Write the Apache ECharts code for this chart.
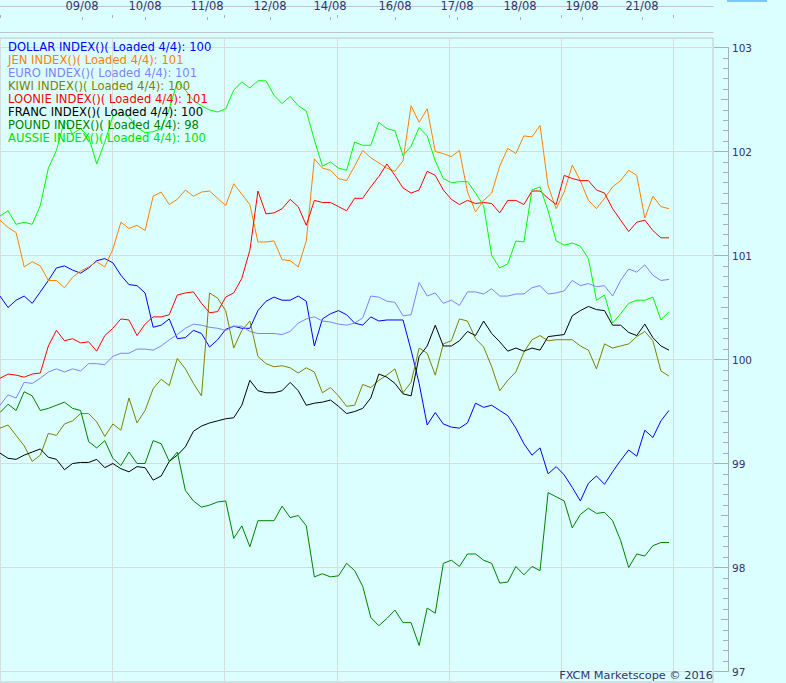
<!DOCTYPE html>
<html><head><meta charset="utf-8">
<script src="https://cdn.jsdelivr.net/npm/echarts@6/dist/echarts.min.js"></script>
<style>html,body{margin:0;padding:0;background:#dbffff}#c{width:786px;height:683px}</style>
</head><body><div id="c"></div>
<script>
// ---- data ----
const dateLabels = ['09/08','10/08','11/08','12/08','14/08','16/08','17/08','18/08','19/08','21/08'];
const datePx = [82,145,207,270,330,395,457,520,582,642];

const dollar = [100.61,100.50,100.57,100.61,100.54,100.65,100.76,100.88,100.90,100.86,
100.83,100.88,100.95,100.97,100.93,100.81,100.72,100.71,100.64,100.31,
100.33,100.39,100.20,100.21,100.28,100.25,100.12,100.19,100.29,100.32,
100.30,100.30,100.47,100.56,100.60,100.57,100.57,100.61,100.56,100.13,
100.39,100.44,100.47,100.43,100.35,100.33,100.41,100.37,100.38,100.38,
100.38,100.09,99.77,99.37,99.49,99.38,99.35,99.34,99.39,99.58,
99.54,99.56,99.51,99.46,99.34,99.19,99.08,99.15,98.90,98.97,
98.89,98.77,98.64,98.81,98.88,98.80,98.92,99.03,99.13,99.07,
99.32,99.25,99.41,99.51];
const jen = [101.34,101.27,101.22,100.89,100.94,100.90,100.76,100.76,100.69,100.79,
100.85,100.89,100.94,100.89,101.06,101.32,101.26,101.29,101.24,101.57,
101.61,101.49,101.54,101.63,101.57,101.61,101.62,101.55,101.48,101.69,
101.59,101.49,101.13,101.13,101.14,100.96,100.95,100.89,101.14,101.93,
101.84,101.82,101.74,101.72,101.86,102.01,101.94,101.89,101.84,101.81,
101.91,102.44,102.28,102.41,102.00,101.98,101.95,102.01,101.61,101.42,
101.53,101.60,101.86,102.03,101.98,102.15,102.14,102.25,101.67,101.45,
101.61,101.87,101.72,101.53,101.45,101.55,101.66,101.72,101.82,101.77,
101.36,101.57,101.47,101.45];
const euro = [99.56,99.66,99.63,99.78,99.77,99.82,99.88,99.91,99.88,99.91,
99.89,99.96,99.96,99.95,100.03,100.06,100.06,100.10,100.10,100.09,
100.13,100.19,100.24,100.30,100.34,100.33,100.31,100.30,100.28,100.32,
100.32,100.27,100.25,100.25,100.25,100.24,100.27,100.35,100.39,100.41,
100.37,100.36,100.34,100.33,100.35,100.40,100.61,100.60,100.56,100.55,
100.42,100.43,100.74,100.61,100.64,100.54,100.57,100.52,100.65,100.65,
100.63,100.68,100.61,100.61,100.63,100.63,100.69,100.71,100.63,100.64,
100.66,100.76,100.71,100.73,100.70,100.71,100.61,100.76,100.87,100.84,
100.91,100.81,100.76,100.77];
const kiwi = [99.34,99.37,99.27,99.17,99.02,99.08,99.29,99.27,99.38,99.41,
99.48,99.48,99.40,99.26,99.38,99.32,99.63,99.39,99.51,99.72,
99.81,99.75,100.01,99.91,99.77,99.65,100.64,100.59,100.47,100.11,
100.28,100.37,100.03,99.96,99.93,99.94,99.92,99.87,99.92,99.88,
99.68,99.73,99.65,99.55,99.56,99.76,99.73,99.80,99.85,99.91,
99.68,99.78,100.11,100.06,99.85,100.15,100.18,100.39,100.37,100.20,
100.12,99.93,99.70,99.80,99.88,100.07,100.19,100.23,100.18,100.19,
100.19,100.19,100.13,100.09,99.91,100.15,100.11,100.13,100.15,100.22,
100.27,100.18,99.89,99.84];
const loonie = [99.82,99.86,99.85,99.83,99.86,99.87,100.13,100.28,100.18,100.20,
100.16,100.17,100.08,100.23,100.30,100.39,100.38,100.23,100.34,100.41,
100.41,100.43,100.62,100.64,100.65,100.54,100.45,100.46,100.60,100.64,
100.78,101.05,101.62,101.40,101.41,101.45,101.54,101.47,101.29,101.53,
101.51,101.51,101.47,101.43,101.55,101.55,101.66,101.76,101.88,101.77,
101.65,101.60,101.63,101.81,101.77,101.63,101.54,101.49,101.53,101.50,
101.51,101.50,101.41,101.53,101.53,101.49,101.62,101.62,101.55,101.49,
101.77,101.74,101.72,101.72,101.63,101.60,101.45,101.34,101.23,101.32,
101.34,101.24,101.17,101.17];
const franc = [99.10,99.05,99.04,99.08,99.11,99.14,99.06,99.04,98.94,99.00,
99.01,99.01,99.04,98.96,99.00,98.95,98.92,98.97,98.96,98.84,
98.88,99.02,99.08,99.16,99.31,99.36,99.39,99.41,99.43,99.44,
99.56,99.80,99.70,99.68,99.68,99.70,99.78,99.70,99.56,99.58,
99.59,99.61,99.55,99.48,99.50,99.53,99.63,99.86,99.83,99.77,
99.67,99.65,100.03,100.13,100.33,100.13,100.13,100.18,100.27,100.23,
100.37,100.25,100.17,100.08,100.11,100.08,100.11,100.09,100.22,100.23,
100.24,100.42,100.47,100.51,100.48,100.47,100.33,100.33,100.26,100.23,
100.34,100.21,100.13,100.09];
const pound = [99.49,99.57,99.51,99.69,99.65,99.51,99.53,99.56,99.59,99.53,
99.51,99.21,99.15,99.22,99.05,98.98,99.11,99.00,99.00,99.22,
99.19,99.02,99.11,98.74,98.64,98.58,98.60,98.63,98.64,98.28,
98.40,98.20,98.45,98.45,98.45,98.59,98.48,98.50,98.40,97.91,
97.94,97.91,97.92,98.04,97.97,97.82,97.52,97.44,97.51,97.59,
97.47,97.47,97.25,97.61,97.56,98.04,98.07,98.01,98.13,98.13,
98.07,98.04,97.85,97.86,98.01,97.93,98.01,97.97,98.72,98.68,
98.64,98.38,98.51,98.57,98.52,98.53,98.45,98.26,98.00,98.13,
98.11,98.21,98.24,98.24];
const aussie = [101.38,101.43,101.30,101.32,101.30,101.48,101.84,102.01,102.30,102.17,
102.22,102.14,101.88,102.09,102.34,102.38,102.33,102.23,102.18,102.19,
102.22,102.41,102.67,102.59,102.49,102.44,102.40,102.38,102.41,102.59,
102.67,102.61,102.68,102.68,102.54,102.46,102.53,102.44,102.39,102.11,
101.86,101.90,101.84,101.82,102.09,102.06,102.06,102.28,102.22,102.20,
101.96,102.05,102.23,102.15,101.91,101.74,101.70,101.71,101.71,101.60,
101.48,101.00,100.88,100.92,101.14,101.13,101.63,101.66,101.43,101.14,
101.10,101.12,101.09,100.97,100.57,100.62,100.35,100.44,100.54,100.57,
100.57,100.60,100.38,100.46];

const seriesNames = ['DOLLAR','JEN','EURO','KIWI','LOONIE','FRANC','POUND','AUSSIE'];
const legendTexts = ['DOLLAR INDEX()( Loaded 4/4): 100','JEN INDEX()( Loaded 4/4): 101',
 'EURO INDEX()( Loaded 4/4): 101','KIWI INDEX()( Loaded 4/4): 100','LOONIE INDEX()( Loaded 4/4): 101',
 'FRANC INDEX()( Loaded 4/4): 100','POUND INDEX()( Loaded 4/4): 98','AUSSIE INDEX()( Loaded 4/4): 100'];
const seriesData = [dollar, jen, euro, kiwi, loonie, franc, pound, aussie];
const seriesColors = ['#0000ff','#ff8000','#8080ff','#808000','#ff0000','#000000','#008000','#00ff00'];
const legendColors = ['#0000ff','#ff8000','#8080ff','#808000','#ff0000','#000000','#008000','#00e000'];

// ---- chart ----
const FONT = '"DejaVu Sans", Verdana, sans-serif';
const NAVY = '#34346c';
const GRIDC = '#dadada';
const FRAMEC = '#c2c4cc';
const AXISC = '#a8b0bc';
const STEP = 669 / 83;          // pixels per sample
const xMax = 713 / STEP;
const DIV = 117.8;              // vertical divider spacing (px)
const DIV0 = -11.8;             // first divider origin (px)
const DIVW = DIV * 7;           // width of divider helper grids

const hidden = {axisLine: {show: false, onZero: false}, axisTick: {show: false}, axisLabel: {show: false}, splitLine: {show: false}};

const chart = echarts.init(document.getElementById('c'), null, {renderer: 'svg'});
const option = {
  backgroundColor: '#dbffff',
  animation: false,
  grid: [
    {left: 0, width: 713, top: 1, height: 31},
    {left: 0, width: 713, top: 38, height: 644, show: true, borderColor: FRAMEC, borderWidth: 1, backgroundColor: 'transparent'},
    {left: 0, width: 713, top: 47.5, height: 624},
    {left: DIV0, width: DIVW, top: 38, height: 644},
    {left: DIV0, width: DIVW, top: 15, height: 3}
  ],
  xAxis: [
    {gridIndex: 0, type: 'value', min: 0, max: 713, position: 'top', offset: -11,
     axisLine: {show: false, onZero: false}, splitLine: {show: false},
     axisTick: {show: true, inside: true, length: 3, customValues: datePx, lineStyle: {color: AXISC}},
     axisLabel: {show: true, customValues: datePx, margin: 5, color: NAVY, fontSize: 11.5, fontFamily: FONT,
       formatter: v => dateLabels[datePx.indexOf(v)] || ''}},
    {gridIndex: 0, type: 'value', min: 0, max: 713, position: 'top', ...hidden,
     axisLine: {show: true, onZero: false, lineStyle: {color: FRAMEC}}},
    {gridIndex: 0, type: 'value', min: 0, max: 713, position: 'bottom', ...hidden,
     axisLine: {show: true, onZero: false, lineStyle: {color: FRAMEC}}},
    {gridIndex: 2, type: 'value', min: 0, max: xMax, show: false, axisLine: {onZero: false}, splitLine: {show: false}},
    {gridIndex: 3, type: 'value', min: 0, max: DIVW, interval: DIV, ...hidden,
     splitLine: {show: true, lineStyle: {color: GRIDC, width: 1}}},
    {gridIndex: 4, type: 'value', min: 0, max: DIVW, interval: DIV, position: 'bottom', ...hidden,
     axisTick: {show: true, inside: true, length: 3, lineStyle: {color: AXISC}}}
  ],
  yAxis: [
    {gridIndex: 0, type: 'value', min: 0, max: 1, show: false, ...hidden},
    {gridIndex: 1, type: 'value', min: 0, max: 1, show: false, ...hidden},
    {gridIndex: 2, type: 'value', min: 97, max: 103, interval: 1, position: 'right', offset: 15,
     axisLine: {show: true, onZero: false, lineStyle: {color: AXISC}},
     axisTick: {show: true, inside: true, length: 14, lineStyle: {color: AXISC}},
     minorTick: {show: true, splitNumber: 10, length: 5, lineStyle: {color: AXISC}},
     splitLine: {show: true, lineStyle: {color: GRIDC}},
     axisLabel: {margin: 4, color: NAVY, fontSize: 10.5, fontFamily: FONT}},
    {gridIndex: 2, type: 'value', min: 97, max: 103, interval: 0.5, position: 'right', offset: 15,
     axisLine: {show: false, onZero: false},
     axisTick: {show: true, inside: true, length: 7, lineStyle: {color: AXISC}},
     axisLabel: {show: false}, splitLine: {show: false}},
    {gridIndex: 3, type: 'value', min: 0, max: 1, show: false, ...hidden},
    {gridIndex: 4, type: 'value', min: 0, max: 1, show: false, ...hidden}
  ],
  series: seriesNames.map((n, k) => ({
    name: n, type: 'line', xAxisIndex: 3, yAxisIndex: 2,
    data: seriesData[k].map((v, i) => [i, v]),
    showSymbol: false, symbol: 'none', silent: true, z: 3,
    lineStyle: {width: 1, color: seriesColors[k]}, itemStyle: {color: seriesColors[k]}
  })),
  graphic: [
    ...legendTexts.map((t, k) => ({
      type: 'text', x: 8, y: 47 + 12.95 * k, z: 10,
      style: {text: t, fill: legendColors[k], font: '11.6px ' + FONT, verticalAlign: 'middle', textVerticalAlign: 'middle'}
    })),
    {type: 'text', x: 713, y: 675, z: 10,
     style: {text: 'FXCM Marketscope © 2016', fill: NAVY, font: '11.3px ' + FONT, align: 'right', textAlign: 'right', verticalAlign: 'middle', textVerticalAlign: 'middle'}},
    {type: 'rect', shape: {x: 727, y: 0, width: 40, height: 2}, style: {fill: '#7cc4ff'}, z: 10}
  ]
};
chart.setOption(option);
</script>
</body></html>
